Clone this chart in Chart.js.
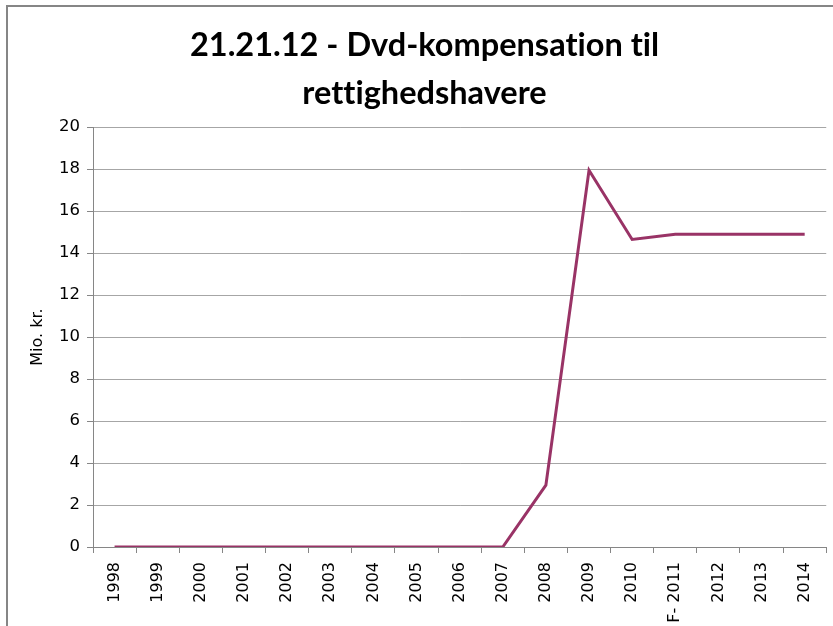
<!DOCTYPE html>
<html>
<head>
<meta charset="utf-8">
<script src="https://cdn.jsdelivr.net/npm/chart.js@4"></script>
<style>
  html, body { margin: 0; padding: 0; background: #fff; }
  #wrap { width: 833px; height: 626px; position: relative; }
</style>
</head>
<body>
<div id="wrap"><canvas id="chart" width="833" height="626"></canvas></div>
<script>
// data
const years = ['1998', '1999', '2000', '2001', '2002', '2003', '2004', '2005', '2006',
  '2007', '2008', '2009', '2010', 'F- 2011', '2012', '2013', '2014'];
const mioKr = [0, 0, 0, 0, 0, 0, 0, 0, 0, 0, 2.95, 17.95, 14.65, 14.9, 14.9, 14.9, 14.9];
const titleLines = ['21.21.12 - Dvd-kompensation til', 'rettighedshavere'];
const yTitle = 'Mio. kr.';

// frame around the chart (left and top edges only show in the picture)
const frame = {
  id: 'frame',
  beforeDraw(chart) {
    // no "ti" ligature, as in the original
    chart.ctx.textRendering = 'optimizeSpeed';
  },
  afterDraw(chart) {
    const c = chart.ctx;
    c.save();
    c.strokeStyle = '#868686';
    c.lineWidth = 2;
    c.beginPath();
    c.moveTo(7, 626);
    c.lineTo(7, 6);
    c.lineTo(833, 6);
    c.stroke();
    c.restore();
  }
};

window.onload = start
function start() {
  let ctx = document.getElementById('chart');

  new Chart(ctx, {
    type: 'line',
    data: {
      labels: years,
      datasets: [{
        label: 'Dvd-kompensation',
        data: mioKr,
        borderColor: '#993366',
        borderWidth: 3,
        pointRadius: 0,
        tension: 0,
        fill: false
      }]
    },
    plugins: [frame],
    options: {
      responsive: false,
      animation: false,
      layout: { padding: { left: 20, right: 4, top: 0, bottom: 0 } },
      plugins: {
        legend: { display: false },
        tooltip: { enabled: false },
        title: {
          display: true,
          text: titleLines,
          color: '#000',
          font: { family: 'Lato', size: 32.5, weight: 'bold', lineHeight: 1.48 },
          padding: { top: 21, bottom: 10 }
        }
      },
      scales: {
        x: {
          offset: true,
          grid: { offset: true, drawOnChartArea: false, color: '#868686', tickLength: 6 },
          border: { color: '#868686' },
          ticks: {
            minRotation: 90, maxRotation: 90, autoSkip: false,
            color: '#000', padding: 9,
            font: { family: 'DejaVu Sans', size: 16 }
          },
          afterFit(s) { s.height = 79; }
        },
        y: {
          min: 0, max: 20,
          ticks: {
            stepSize: 2, color: '#000', padding: 7,
            font: { family: 'DejaVu Sans', size: 16.5 }
          },
          grid: { color: '#A6A6A6', tickLength: 6, tickColor: '#868686' },
          border: { color: '#868686' },
          title: {
            display: true, text: yTitle, color: '#000',
            font: { family: 'DejaVu Sans', size: 16 },
            padding: { top: 8, bottom: 0 }
          },
          afterFit(s) { s.width = 73; }
        }
      }
    }
  });
}
</script>
</body>
</html>
